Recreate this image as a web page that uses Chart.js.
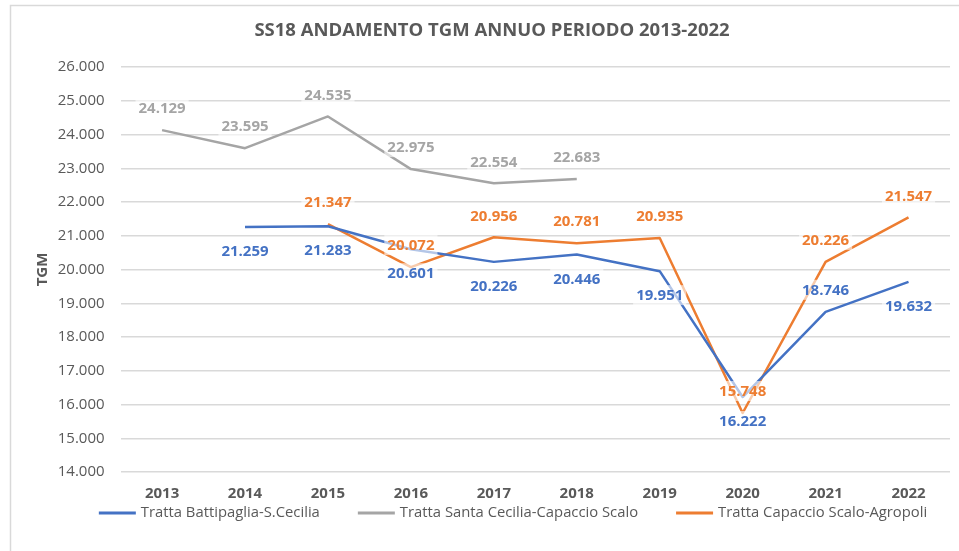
<!DOCTYPE html>
<html>
<head>
<meta charset="utf-8">
<script src="https://cdn.jsdelivr.net/npm/chart.js@4"></script>
<style>
  html, body { margin: 0; padding: 0; background: #fff; }
  #wrap { width: 959px; height: 551px; position: relative; }
</style>
</head>
<body>
<div id="wrap"><canvas id="tgmChart"></canvas></div>
<script>
const anni = ['2013','2014','2015','2016','2017','2018','2019','2020','2021','2022']
const battipaglia = [null, 21259, 21283, 20601, 20226, 20446, 19951, 16222, 18746, 19632]
const santaCecilia = [24129, 23595, 24535, 22975, 22554, 22683, null, null, null, null]
const capaccio = [null, null, 21347, 20072, 20956, 20781, 20935, 15748, 20226, 21547]
// where the value label sits: 1 = above the point, -1 = below
const posBattipaglia = [0, -1, -1, -1, -1, -1, -1, -1, 1, -1]
const posSantaCecilia = [1, 1, 1, 1, 1, 1, 0, 0, 0, 0]
const posCapaccio = [0, 0, 1, 1, 1, 1, 1, 1, 1, 1]

const fmt = v => v.toLocaleString('it-IT')
const grey = '#595959'

const frame = {
  id: 'frame',
  beforeDraw(chart) {
    const c = chart.ctx
    c.save()
    c.strokeStyle = '#d9d9d9'
    c.lineWidth = 1.5
    c.beginPath()
    c.moveTo(10.5, 551)
    c.lineTo(10.5, 5.5)
    c.lineTo(959, 5.5)
    c.stroke()
    c.restore()
  }
}

const valueLabels = {
  id: 'valueLabels',
  afterDatasetsDraw(chart) {
    const c = chart.ctx
    c.save()
    c.font = 'bold 15px "Open Sans"'
    c.textAlign = 'center'
    c.textBaseline = 'middle'
    chart.data.datasets.forEach((ds, i) => {
      const meta = chart.getDatasetMeta(i)
      meta.data.forEach((pt, j) => {
        const v = ds.data[j]
        if (v == null) return
        const side = ds.labelPos[j]
        const x = pt.x
        const y = pt.y - side * 23 + 2
        const w = c.measureText(fmt(v)).width + 6
        c.fillStyle = 'rgba(255,255,255,0.6)'
        c.fillRect(x - w / 2, y - 11, w, 20)
        c.fillStyle = ds.borderColor
        c.fillText(fmt(v), x, y)
      })
    })
    c.restore()
  }
}

// legend drawn by hand so the item spacing and height match the original
const bottomLegend = {
  id: 'bottomLegend',
  afterDraw(chart) {
    const c = chart.ctx
    c.save()
    c.font = '14.8px "Open Sans"'
    c.textBaseline = 'middle'
    const y = 513
    const items = chart.data.datasets.map(ds => ({ ds, w: 37 + 5 + c.measureText(ds.label).width }))
    const total = items.reduce((s, it) => s + it.w, 0) + 38 * (items.length - 1)
    let x = 513 - total / 2
    items.forEach(it => {
      c.strokeStyle = it.ds.borderColor
      c.lineWidth = 3
      c.beginPath()
      c.moveTo(x, y)
      c.lineTo(x + 37, y)
      c.stroke()
      c.fillStyle = grey
      c.fillText(it.ds.label, x + 42, y)
      x += it.w + 38
    })
    c.restore()
  }
}

let ctx = document.getElementById('tgmChart').getContext('2d')
let chart = new Chart(ctx, {
  type: 'line',
  data: {
    labels: anni,
    datasets: [{
      label: 'Tratta Battipaglia-S.Cecilia',
      data: battipaglia,
      labelPos: posBattipaglia,
      borderColor: '#4472C4',
      backgroundColor: '#4472C4'
    }, {
      label: 'Tratta Santa Cecilia-Capaccio Scalo',
      data: santaCecilia,
      labelPos: posSantaCecilia,
      borderColor: '#A5A5A5',
      backgroundColor: '#A5A5A5'
    }, {
      label: 'Tratta Capaccio Scalo-Agropoli',
      data: capaccio,
      labelPos: posCapaccio,
      borderColor: '#ED7D31',
      backgroundColor: '#ED7D31'
    }]
  },
  options: {
    responsive: true,
    maintainAspectRatio: false,
    animation: false,
    spanGaps: false,
    elements: {
      line: { borderWidth: 2.5, tension: 0, borderJoinStyle: 'round' },
      point: { radius: 0, hoverRadius: 0 }
    },
    layout: { padding: { left: 34, right: 9, top: 8, bottom: 35 } },
    plugins: {
      title: {
        display: true,
        text: 'SS18 ANDAMENTO TGM ANNUO PERIODO 2013-2022',
        color: grey,
        font: { family: 'Open Sans', size: 18.5, weight: 'bold' },
        padding: { top: 12, bottom: 24.8 }
      },
      legend: { display: false },
      tooltip: { enabled: false }
    },
    scales: {
      x: {
        offset: true,
        grid: { display: false, drawTicks: false },
        border: { display: false },
        ticks: {
          color: grey,
          font: { family: 'Open Sans', size: 15, weight: 'bold' },
          padding: 13
        }
      },
      y: {
        min: 14000,
        max: 26000,
        afterFit(scale) { scale.width = 86.6 },
        ticks: {
          stepSize: 1000,
          color: grey,
          padding: 16,
          font: { family: 'Open Sans', size: 15 },
          callback: v => fmt(v)
        },
        grid: { color: '#d9d9d9', lineWidth: 1.5, drawTicks: false },
        border: { display: false },
        title: {
          display: true,
          text: 'TGM',
          color: grey,
          font: { family: 'Open Sans', size: 15, weight: 'bold' },
          padding: { top: 0, bottom: 0 }
        }
      }
    }
  },
  plugins: [frame, valueLabels, bottomLegend]
})
</script>
</body>
</html>
